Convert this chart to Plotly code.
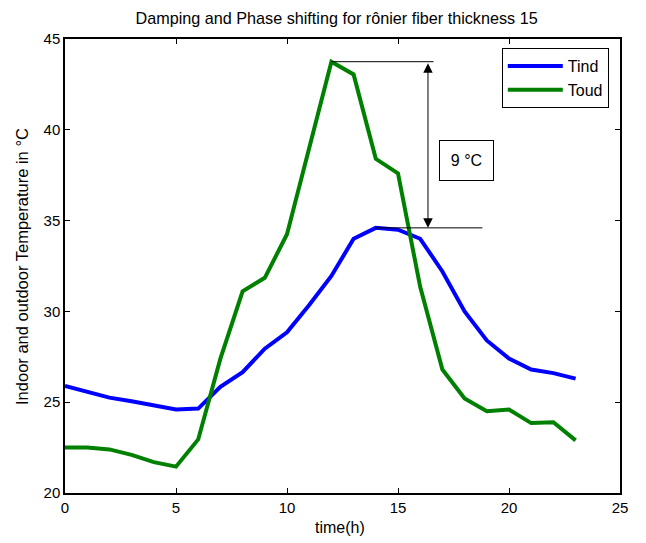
import plotly.graph_objects as go

hours = list(range(24))
tind = [25.9, 25.55, 25.25, 25.05, 24.8, 24.6, 24.65, 25.85, 26.65, 27.95, 28.85, 30.35, 31.95, 34.0,
        34.6, 34.5, 34.0, 32.2, 30.0, 28.4, 27.4, 26.8, 26.6, 26.3]
toud = [22.5, 22.5, 22.4, 22.1, 21.7, 21.45, 22.95, 27.4, 31.1, 31.85, 34.25, 38.9, 43.75, 43.05,
        38.4, 37.6, 31.35, 26.8, 25.2, 24.5, 24.6, 23.85, 23.9, 22.9]
x_ticks = [0, 5, 10, 15, 20, 25]
y_ticks = [20, 25, 30, 35, 40, 45]
label_text = "9 °C"

top_y = max(toud)
low_y = max(tind)
top_x = hours[toud.index(top_y)]
low_x = hours[tind.index(low_y)]
arrow_x = 16.35

font = "Liberation Sans, Arial, sans-serif"

fig = go.Figure()
fig.add_trace(go.Scatter(x=hours, y=tind, mode="lines", name="Tind",
                         line=dict(color="#0000FF", width=4)))
fig.add_trace(go.Scatter(x=hours, y=toud, mode="lines", name="Toud",
                         line=dict(color="#008000", width=4)))

# horizontal reference lines
fig.add_shape(type="line", x0=top_x, x1=16.6, y0=top_y, y1=top_y,
              line=dict(color="black", width=1), xref="x", yref="y")
fig.add_shape(type="line", x0=low_x, x1=18.8, y0=low_y, y1=low_y,
              line=dict(color="black", width=1), xref="x", yref="y")

# double arrow
fig.add_annotation(x=arrow_x, y=low_y, ax=arrow_x, ay=top_y, xref="x", yref="y",
                   axref="x", ayref="y", text="", showarrow=True,
                   arrowhead=2, startarrowhead=2, arrowside="end+start",
                   arrowsize=1.9, startarrowsize=1.9, arrowwidth=1, arrowcolor="black")

# text box
fig.add_annotation(x=18.1, y=38.3, xref="x", yref="y", text=label_text, showarrow=False,
                   font=dict(family=font, size=16, color="black"),
                   bordercolor="black", borderwidth=1, borderpad=4,
                   width=45, height=31, bgcolor="white")

# axis titles
fig.add_annotation(x=0.495, y=-0.077, xref="paper", yref="paper", text="time(h)",
                   showarrow=False, xanchor="center", yanchor="middle",
                   font=dict(family=font, size=16, color="black"))
fig.add_annotation(x=-0.0775, y=0.5, xref="paper", yref="paper",
                   text="Indoor and outdoor Temperature in °C", textangle=-90,
                   showarrow=False, xanchor="center", yanchor="middle",
                   font=dict(family=font, size=16.5, color="black"))

axis_common = dict(showline=True, linecolor="black", linewidth=1.5, mirror="ticks",
                   ticks="inside", ticklen=5, tickcolor="black", showgrid=False,
                   zeroline=False, automargin=False,
                   tickfont=dict(family=font, size=15, color="black"))

fig.update_layout(
    width=646, height=543,
    margin=dict(l=65, r=26, t=39, b=50),
    paper_bgcolor="white", plot_bgcolor="white",
    title=dict(text="Damping and Phase shifting for rônier fiber thickness 15",
               x=0.521, xanchor="center", y=0.966, yanchor="middle",
               font=dict(family=font, size=16.2, color="black")),
    xaxis=dict(range=[0, 25], tickvals=x_ticks, **axis_common),
    yaxis=dict(range=[20, 45], tickvals=y_ticks, **axis_common),
    legend=dict(x=0.787, y=0.98, xanchor="left", yanchor="top", bordercolor="black",
                borderwidth=1, bgcolor="white", font=dict(family=font, size=16, color="black"),
                itemwidth=55),
    showlegend=True,
)

fig.write_html("out.html")
